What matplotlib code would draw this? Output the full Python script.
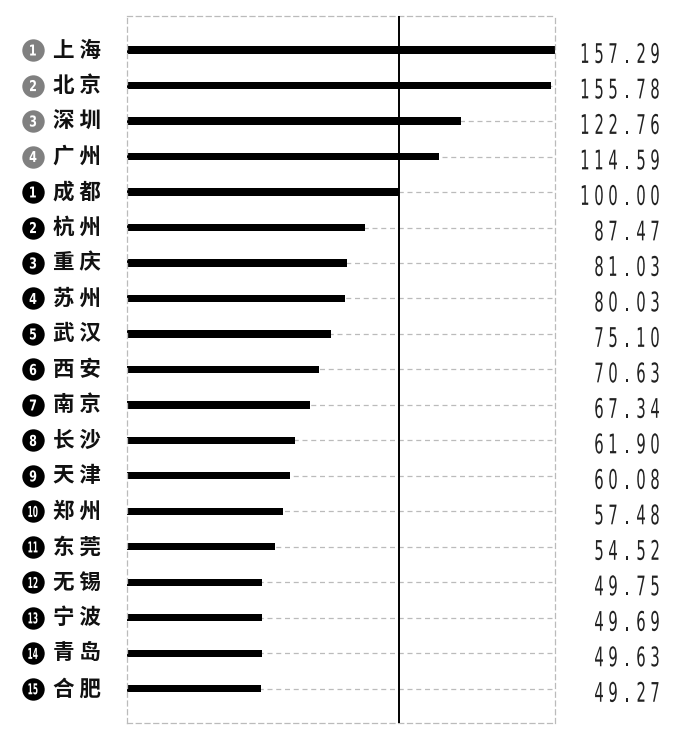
import matplotlib.pyplot as plt
from matplotlib.transforms import blended_transform_factory, Affine2D
from matplotlib.textpath import TextPath
from matplotlib.patches import PathPatch
from matplotlib.font_manager import FontProperties

plt.rcParams['font.family'] = ['Noto Sans CJK SC', 'DejaVu Sans']

cities = ['上海', '北京', '深圳', '广州', '成都', '杭州', '重庆', '苏州', '武汉', '西安',
          '南京', '长沙', '天津', '郑州', '东莞', '无锡', '宁波', '青岛', '合肥']
ranks = ['1', '2', '3', '4', '1', '2', '3', '4', '5', '6',
         '7', '8', '9', '10', '11', '12', '13', '14', '15']
values = [157.29, 155.78, 122.76, 114.59, 100.00, 87.47, 81.03, 80.03, 75.10, 70.63,
          67.34, 61.90, 60.08, 57.48, 54.52, 49.75, 49.69, 49.63, 49.27]
tier1_count = 4

fig = plt.figure(figsize=(6.84, 7.36), dpi=100)
ax = fig.add_axes([0.1857, 0.0177, 0.6257, 0.9606])

y = list(range(len(cities)))
for yi in y:
    ax.axhline(yi, color='#bbbbbb', lw=0.9, ls=(0, (4, 3)), zorder=1)
ax.barh(y, values, height=0.2, color='black', zorder=2)
ax.axvline(100, color='black', lw=1.4, zorder=3)

ax.set_xlim(0, 157.29)
ax.set_ylim(len(cities) - 0.04, -0.96)
ax.set_xticks([])
ax.set_yticks([])
for s in ax.spines.values():
    s.set_color('#bbbbbb')
    s.set_linestyle((0, (4, 3)))
    s.set_linewidth(0.9)

# narrow, spaced digits drawn as scaled text paths (pixel coords)
num_font = FontProperties(family='DejaVu Sans')
bold_font = FontProperties(family='DejaVu Sans', weight='bold')

def narrow_text(s, right_px, mid_px, pitch=14, size=27, sx=0.55, color='#222222'):
    n = len(s)
    for k, ch in enumerate(s):
        cx = right_px - pitch / 2 - pitch * (n - 1 - k)
        p = TextPath((0, 0), ch, size=size, prop=num_font)
        ext = p.get_extents()
        w = (ext.x0 + ext.x1) / 2
        t = Affine2D().translate(-w, 0).scale(sx, 1).translate(cx, mid_px - 0.365 * size)
        fig.add_artist(PathPatch(p, transform=t, color=color, lw=0))

def circle_num(s, cx, mid_px, size=15, color='white'):
    sx = 0.75 if len(s) == 1 else 0.5
    p = TextPath((0, 0), s, size=size, prop=bold_font)
    ext = p.get_extents()
    t = (Affine2D().translate(-(ext.x0 + ext.x1) / 2, -(ext.y0 + ext.y1) / 2)
         .scale(sx, 1).translate(cx, mid_px))
    fig.add_artist(PathPatch(p, transform=t, color=color, lw=0, zorder=6))

tr = blended_transform_factory(fig.transFigure, ax.transData)
for i, (c, r, v) in enumerate(zip(cities, ranks, values)):
    col = '#808080' if i < tier1_count else 'black'
    ax.scatter([33 / 684], [i], s=260, color=col, transform=tr, clip_on=False, zorder=4,
               linewidths=0)
    ymid = ax.transData.transform((0, i))[1]
    circle_num(r, 33, ymid)
    ax.text(53 / 684, i, ' '.join(c), transform=tr, ha='left', va='center',
            fontsize=15.5, fontweight='bold', color='#111111')
    narrow_text(f'{v:.2f}', 662, ymid - 3)

fig.savefig('out.png', dpi=100)
